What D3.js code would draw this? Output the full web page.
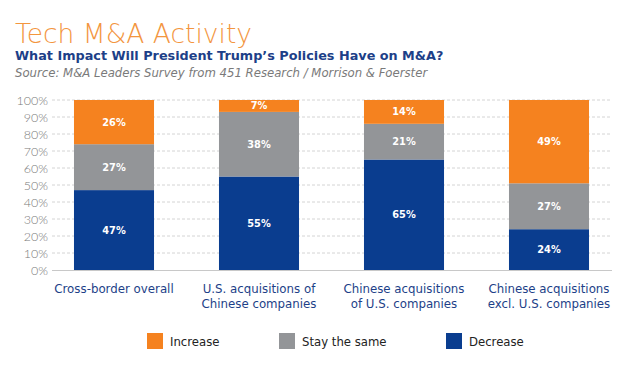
<!DOCTYPE html>
<html><head><meta charset="utf-8">
<script src="https://cdn.jsdelivr.net/npm/d3@7"></script>
<style>body{margin:0;background:#fff}svg{display:block}</style>
</head><body>
<svg id="c" width="641" height="368"></svg>
<script>
const categories = [["Cross-border overall"],["U.S. acquisitions of","Chinese companies"],["Chinese acquisitions","of U.S. companies"],["Chinese acquisitions","excl. U.S. companies"]];
const decrease = [47,55,65,24];
const stay = [27,38,21,27];
const increase = [26,7,14,49];
const seriesNames = ["Decrease","Stay the same","Increase"];
const yTicks = [0,10,20,30,40,50,60,70,80,90,100];
const colors = {"Increase":"#f5821f","Stay the same":"#939598","Decrease":"#0a3d8f"};

const svg = d3.select("#c");
const font = "'DejaVu Sans', sans-serif";
const light = "Lato, sans-serif";

svg.append("text").attr("x",15).attr("y",43).attr("fill","#f3963f")
  .attr("font-family",font).attr("font-weight",200).attr("font-size",26.5).text("Tech M&A Activity");
svg.append("text").attr("x",15).attr("y",60).attr("fill","#1d3f88")
  .attr("font-family",font).attr("font-weight",700).attr("font-size",12.8).text("What Impact Will President Trump\u2019s Policies Have on M&A?");
svg.append("text").attr("x",15).attr("y",77).attr("fill","#7a7a7a")
  .attr("font-family",font).attr("font-style","italic").attr("font-size",11.7).text("Source: M&A Leaders Survey from 451 Research / Morrison & Foerster");

const x = d3.scaleBand().domain(d3.range(categories.length)).range([41.5,621.5]).paddingInner(0.448).paddingOuter(0.224);
const y = d3.scaleLinear().domain([0,100]).range([270,100]);

// gridlines
svg.append("g").selectAll("line").data(yTicks.filter(t=>t>0)).join("line")
  .attr("x1",52).attr("x2",612).attr("y1",d=>y(d)).attr("y2",d=>y(d))
  .attr("stroke","#d4d4d4").attr("stroke-dasharray","3,2").attr("stroke-width",1);
svg.append("line").attr("x1",52).attr("x2",612).attr("y1",y(0)+0.5).attr("y2",y(0)+0.5).attr("stroke","#c8c8c8");

// y axis
const yAxis = d3.axisLeft(y).tickValues(yTicks).tickFormat(d=>d+"%").tickSize(0).tickPadding(0);
const ga = svg.append("g").attr("transform","translate(48,0)").call(yAxis);
ga.select(".domain").remove();
ga.selectAll("text").attr("font-family",light).attr("font-size",12.5).attr("fill","#7a7a7a").attr("font-weight",300);

// stacks
const table = categories.map((c,i)=>({i, "Decrease":decrease[i], "Stay the same":stay[i], "Increase":increase[i]}));
const stack = d3.stack().keys(seriesNames)(table);
const g = svg.append("g");
stack.forEach(s=>{
  g.selectAll(null).data(s).join("rect")
    .attr("x",d=>x(d.data.i)).attr("width",x.bandwidth())
    .attr("y",d=>y(d[1])).attr("height",d=>y(d[0])-y(d[1]))
    .attr("fill",colors[s.key]);
  g.selectAll(null).data(s).join("text")
    .attr("x",d=>x(d.data.i)+x.bandwidth()/2).attr("y",d=>(y(d[0])+y(d[1]))/2+3.5)
    .attr("text-anchor","middle").attr("fill","#fff").attr("font-family",font)
    .attr("font-weight",700).attr("font-size",9.8).text(d=>(d[1]-d[0])+"%");
});

// category labels
categories.forEach((lines,i)=>{
  const t = svg.append("text").attr("text-anchor","middle").attr("fill","#1d3f88")
    .attr("font-family",font).attr("font-size",11.8);
  lines.forEach((l,j)=>t.append("tspan").attr("x",x(i)+x.bandwidth()/2).attr("y",293+j*15).text(l));
});

// legend
const legend = [["Increase",147],["Stay the same",279],["Decrease",446]];
legend.forEach(([k,lx])=>{
  svg.append("rect").attr("x",lx).attr("y",333).attr("width",16).attr("height",16).attr("fill",colors[k]);
  svg.append("text").attr("x",lx+23).attr("y",345.5).attr("fill","#222").attr("font-family",font)
    .attr("font-size",11.7).text(k);
});
</script>
</body></html>
